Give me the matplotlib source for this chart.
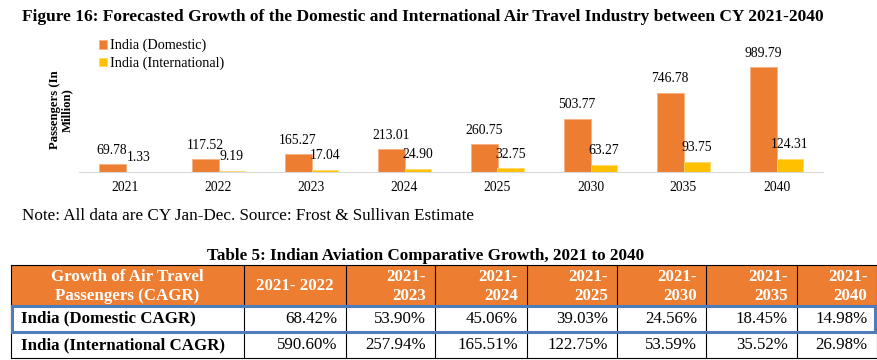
import matplotlib
matplotlib.use("Agg")
import matplotlib.pyplot as plt
from matplotlib.patches import Rectangle
import numpy as np

plt.rcParams['font.family'] = ['Liberation Serif', 'DejaVu Serif']

# chart data
years = ['2021', '2022', '2023', '2024', '2025', '2030', '2035', '2040']
domestic = [69.78, 117.52, 165.27, 213.01, 260.75, 503.77, 746.78, 989.79]
international = [1.33, 9.19, 17.04, 24.90, 32.75, 63.27, 93.75, 124.31]

# table data
tbl_header = ['Growth of Air Travel\nPassengers (CAGR)', '2021- 2022', '2021-\n2023', '2021-\n2024',
              '2021-\n2025', '2021-\n2030', '2021-\n2035', '2021-\n2040']
tbl_rows = ['India (Domestic CAGR)', 'India (International CAGR)']
tbl_domestic = ['68.42%', '53.90%', '45.06%', '39.03%', '24.56%', '18.45%', '14.98%']
tbl_international = ['590.60%', '257.94%', '165.51%', '122.75%', '53.59%', '35.52%', '26.98%']

W, H = 877, 360
ORANGE = '#ED7D31'
YELLOW = '#FFC000'
BLUE = '#4F7CBA'

fig = plt.figure(figsize=(W / 100, H / 100), dpi=100)

# overlay axes in pixel coordinates for texts and the table
ov = fig.add_axes([0, 0, 1, 1])
ov.set_xlim(0, W)
ov.set_ylim(H, 0)
ov.axis('off')

# ---- bar chart ----
ax_left, ax_right, base_y, top_y = 79, 823, 171.7, 45
ax = fig.add_axes([ax_left / W, (H - base_y) / H, (ax_right - ax_left) / W, (base_y - top_y) / H])
x = np.arange(len(years))
bw = 0.29
b1 = ax.bar(x - bw / 2, domestic, bw, color=ORANGE, edgecolor='#F4B183', linewidth=0.6, label='India (Domestic)')
b2 = ax.bar(x + bw / 2, international, bw, color=YELLOW, edgecolor='#FFD966', linewidth=0.6, label='India (International)')
for bars, vals in ((b1, domestic), (b2, international)):
    for rect, v in zip(bars, vals):
        ax.annotate('%.2f' % v, (rect.get_x() + rect.get_width() / 2, rect.get_height()),
                    xytext=(0, 5.5), textcoords='offset points', ha='center', va='bottom', fontsize=9.8)
ax.set_xlim(-0.5, len(years) - 0.5)
ax.set_ylim(0, 1200)
ax.set_xticks(x)
ax.set_xticklabels(years, fontsize=9.8)
ax.tick_params(axis='x', length=0, pad=7)
ax.set_yticks([])
for s in ('top', 'right', 'left'):
    ax.spines[s].set_visible(False)
ax.spines['bottom'].set_color('#D9D9D9')
ax.patch.set_alpha(0)

ax.legend(loc='upper left', bbox_to_anchor=(99 / W, 1 - 39 / H), bbox_transform=fig.transFigure,
          frameon=False, fontsize=10.2, handlelength=0.55, handleheight=0.55, handletextpad=0.25,
          labelspacing=0.3, borderpad=0, borderaxespad=0)

ov.text(22, 17, 'Figure 16: Forecasted Growth of the Domestic and International Air Travel Industry between CY 2021-2040',
        fontsize=12.5, fontweight='bold', ha='left', va='center')
ov.text(61, 110, 'Passengers (In\nMillion)', rotation=90, fontsize=9.2, fontweight='bold',
        ha='center', va='center', multialignment='center', linespacing=1.1)
ov.text(22, 216, 'Note: All data are CY Jan-Dec. Source: Frost & Sullivan Estimate',
        fontsize=12.3, ha='left', va='center')

# ---- table ----
ov.text(426, 256, 'Table 5: Indian Aviation Comparative Growth, 2021 to 2040',
        fontsize=12.3, fontweight='bold', ha='center', va='center')

col_edges = [11, 244, 346, 435, 527, 617, 706, 797, 876.5]
row_edges = [265, 305.5, 332, 358]
fs = 12.2

ov.add_patch(Rectangle((col_edges[0], row_edges[0]), col_edges[-1] - col_edges[0], row_edges[1] - row_edges[0],
                       facecolor=ORANGE, edgecolor='none'))
for ce in col_edges:
    ov.plot([ce, ce], [row_edges[0], row_edges[-1]], color='black', lw=0.8)
for re_ in row_edges:
    ov.plot([col_edges[0], col_edges[-1]], [re_, re_], color='black', lw=0.8)

hy = (row_edges[0] + row_edges[1]) / 2 + 1
for i, h in enumerate(tbl_header):
    if i <= 1:
        ov.text((col_edges[i] + col_edges[i + 1]) / 2, hy, h, color='white', fontsize=fs, fontweight='bold',
                ha='center', va='center', multialignment='center', linespacing=1.25)
    else:
        ov.text(col_edges[i + 1] - 9, hy, h, color='white', fontsize=fs, fontweight='bold',
                ha='right', va='center', multialignment='right', linespacing=1.25)

for r, (label, vals) in enumerate(zip(tbl_rows, (tbl_domestic, tbl_international))):
    cy = (row_edges[r + 1] + row_edges[r + 2]) / 2
    ov.text(col_edges[0] + 10, cy, label, fontsize=fs, fontweight='bold', ha='left', va='center')
    for j, v in enumerate(vals):
        ov.text(col_edges[j + 2] - 9, cy, v, fontsize=fs, ha='right', va='center')

ov.add_patch(Rectangle((col_edges[0] + 1.2, row_edges[1] + 0.5), col_edges[-1] - col_edges[0] - 2.4,
                       row_edges[2] - row_edges[1] - 1, facecolor='none', edgecolor=BLUE, lw=2.2, zorder=5))

fig.savefig('out.png', dpi=100)
